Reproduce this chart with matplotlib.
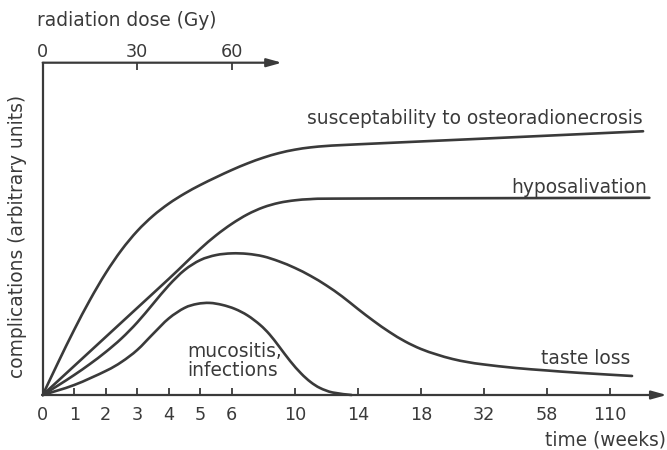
import matplotlib
matplotlib.use("Agg")
import matplotlib.pyplot as plt
import numpy as np
from matplotlib.path import Path
from matplotlib.patches import PathPatch

# x positions are axis slots: the week scale is stretched, 0..6 one slot each, then 2 slots per label
tick_pos    = [0, 1, 2, 3, 4, 5, 6, 8, 10, 12, 14, 16, 18]
tick_labels = ["0", "1", "2", "3", "4", "5", "6", "10", "14", "18", "32", "58", "110"]
dose_ticks  = [0, 30, 60]

osteo_x = [0, 0.5, 1, 1.5, 2, 2.5, 3, 3.5, 4, 4.5, 5, 5.5, 6, 6.5, 7, 7.5, 8, 8.5, 9, 9.5,
           11, 13.6, 16.5, 19.05]
osteo_y = [0, 33.2, 65.2, 95, 121.8, 144.8, 163.8, 179, 191.2, 201.2, 209.8, 217.5, 224.8,
           231.4, 237.1, 241.7, 245.1, 247.4, 248.8, 249.7, 251.9, 255.6, 259.8, 263.5]

hypo_x = [0, 1, 2, 3, 4, 4.5, 5.0, 5.5, 6.0, 6.5, 7.0, 7.5, 8.0, 8.5, 9.2, 13.5, 19.25]
hypo_y = [0, 29, 58, 87, 116, 131, 146, 159.5, 171, 180.5, 187.5, 192, 194.5, 195.7, 196.2,
          196.6, 197]

taste_x = [0, 0.5, 1, 1.5, 2, 2.5, 3, 3.5, 4, 4.5, 5, 5.5, 6, 6.5, 7, 7.5, 8, 8.5, 9,
           9.5, 10, 10.5, 11, 11.5, 12, 12.5, 13, 13.5, 14, 15, 16, 17, 18.7]
taste_y = [0, 9.8, 20, 31, 43, 56.5, 72.5, 91, 109.5, 124.8, 134.8, 139.8, 141.5, 141, 138.5,
           133.5, 127, 119, 109.5, 98.5, 86, 74, 63, 53.5, 46, 40.5, 36, 32.8, 30.5, 27,
           24.5, 22.2, 19]

muco_x = [0, 1, 2, 2.5, 3.0, 3.5, 4.0, 4.5, 4.9, 5.3, 5.7, 6.1, 6.5, 6.9, 7.2, 7.5, 7.85,
          8.2, 8.5, 8.8, 9.2, 9.8]
muco_y = [0, 10, 24, 33, 45, 61, 76.5, 87, 91, 92, 90, 86, 79.5, 70, 60.5, 48.5, 34,
          21.5, 13, 7, 2.5, 0]

INK = "#3a3a3a"
FS = 13.4
W, H = 667, 450


def smooth_curve(xs, ys):
    # bezier path through the read points (catmull-rom tangents), drawn in data coords
    p = np.column_stack([xs, ys]).astype(float)
    verts, codes = [p[0]], [Path.MOVETO]
    n = len(p)
    for i in range(n - 1):
        p0 = p[i - 1] if i > 0 else p[i]
        p3 = p[i + 2] if i + 2 < n else p[i + 1]
        verts += [p[i] + (p[i + 1] - p0) / 6, p[i + 1] - (p3 - p[i]) / 6, p[i + 1]]
        codes += [Path.CURVE4] * 3
    return Path(verts, codes)


fig = plt.figure(figsize=(W / 100, H / 100), dpi=100)
fig.patch.set_facecolor("white")

# axes placed so the origin sits where the reference has it
x0, y0, xr, yt = 42.7, 395, 666.7, 62.7
ax = fig.add_axes([x0 / W, 1 - y0 / H, (xr - x0) / W, (y0 - yt) / H])
XMAX, YMAX = 19.8, 332
ax.set_xlim(0, XMAX)
ax.set_ylim(0, YMAX)

for s in ("top", "right", "bottom"):
    ax.spines[s].set_visible(False)
ax.spines["left"].set_color(INK)
ax.spines["left"].set_linewidth(1.6)
ax.set_yticks([])

ax.set_xticks(tick_pos)
ax.set_xticklabels(tick_labels, fontsize=FS - 0.7, color=INK)
ax.tick_params(axis="x", direction="in", length=5, width=1.3, color=INK, pad=8)

arrow = dict(arrowstyle="-|>,head_length=0.9,head_width=0.25", color=INK, lw=1.6,
             mutation_scale=10, shrinkA=0, shrinkB=0)
# bottom axis with arrow
ax.annotate("", xy=(XMAX, 0), xytext=(0, 0), arrowprops=arrow, annotation_clip=False)

# top dose axis (3 weeks = 30 Gy)
sec = ax.secondary_xaxis("top", functions=(lambda v: v * 10, lambda d: d / 10))
sec.set_xticks(dose_ticks)
sec.set_xticklabels([str(d) for d in dose_ticks], fontsize=FS - 0.7, color=INK)
sec.tick_params(axis="x", direction="in", length=5, width=1.3, color=INK, pad=1.5)
sec.spines["top"].set_visible(False)
ax.annotate("", xy=(7.59, YMAX), xytext=(0, YMAX), arrowprops=arrow, annotation_clip=False)

for xs, ys in ((osteo_x, osteo_y), (hypo_x, hypo_y), (taste_x, taste_y), (muco_x, muco_y)):
    ax.add_patch(PathPatch(smooth_curve(xs, ys), facecolor="none", edgecolor=INK,
                           lw=1.9, capstyle="round", joinstyle="round", clip_on=False))

ax.text(19.03, 271, "susceptability to osteoradionecrosis", ha="right", va="baseline",
        fontsize=FS, color=INK)
ax.text(19.18, 202, "hyposalivation", ha="right", va="baseline", fontsize=FS, color=INK)
ax.text(18.65, 31, "taste loss", ha="right", va="baseline", fontsize=FS, color=INK)
ax.text(4.58, 38, "mucositis,", ha="left", va="baseline", fontsize=FS, color=INK)
ax.text(4.58, 19, "infections", ha="left", va="baseline", fontsize=FS, color=INK)

fig.text(37 / W, 1 - 26 / H, "radiation dose (Gy)", ha="left", va="baseline",
         fontsize=FS, color=INK)
fig.text(666 / W, 1 - 446 / H, "time (weeks)", ha="right", va="baseline",
         fontsize=FS, color=INK)
fig.text(18 / W, 1 - 236 / H, "complications (arbitrary units)", rotation=90,
         ha="center", va="center", fontsize=FS, color=INK)

fig.savefig("out.png", dpi=100, facecolor="white")
